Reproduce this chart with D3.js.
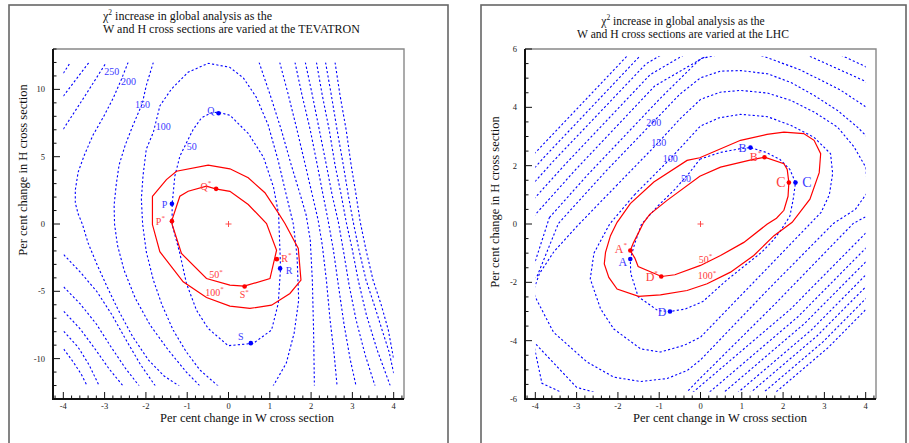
<!DOCTYPE html>
<html><head><meta charset="utf-8">
<script src="https://cdn.jsdelivr.net/npm/d3@7"></script>
<style>body{margin:0;background:#fff}svg{display:block}text{font-family:"Liberation Serif","Times New Roman",serif}</style>
</head><body><svg id="c" width="909" height="443"></svg>
<script>
// ---------------- DATA ----------------
const xTickVals = [-4,-3,-2,-1,0,1,2,3,4];
const yTickValsL = [-10,-5,0,5,10];
const yTickValsR = [-6,-4,-2,0,2,4,6];
const titleL = ["increase in global analysis as the","W and H cross sections are varied at the TEVATRON"];
const titleR = ["increase in global analysis as the","W and H cross sections are varied at the LHC"];
const xLabel = "Per cent change in W cross section";
const yLabel = "Per cent change in H cross section";

// TEVATRON blue chi2 contours (W%, H%)
const tevB50 = [[-1.365,-0.04],[-1.365,1.45],[-1.30,3.55],[-1.178,5.03],[-1.018,6.03],[-0.856,7.02],[-0.655,7.88],[-0.412,8.26],[-0.25,8.30],[0.034,8.08],[0.485,6.70],[0.848,4.96],[1.09,2.73],[1.212,0.76],[1.246,-1.95],[1.26,-3.30],[1.205,-5.90],[1.042,-7.88],[0.599,-8.87],[-0.007,-9.04],[-0.492,-7.76],[-0.776,-6.40],[-1.018,-4.42],[-1.178,-2.19],[-1.365,-0.04]];
const tevB100 = [[-0.25,-12.04],[-0.69,-10.85],[-1.02,-9.51],[-1.34,-7.88],[-1.61,-6.02],[-1.82,-4.16],[-1.99,-2.08],[-2.08,0],[-2.11,1.86],[-2.07,3.59],[-1.99,5.57],[-1.82,6.81],[-1.66,8.79],[-1.38,10.03],[-0.98,11.27],[-0.49,11.94],[0.03,11.64],[0.36,10.85],[0.67,9.44],[0.96,7.36],[1.20,4.75],[1.40,2.15],[1.57,0],[1.66,-2.38],[1.70,-5.65],[1.59,-8.10],[1.40,-10.33],[1.08,-12.04]];
const tevB150 = [[-1.82,12.01],[-1.99,10.30],[-2.09,8.92],[-2.31,7.36],[-2.50,5.87],[-2.65,4.38],[-2.72,2.90],[-2.77,1.41],[-2.76,0],[-2.69,-1.56],[-2.53,-3.42],[-2.26,-5.50],[-1.90,-7.50],[-1.46,-9.36],[-1.02,-11.0],[-0.69,-12.04]];
const tevB200 = [[-2.43,12.01],[-2.60,10.70],[-2.79,9.36],[-3.03,7.95],[-3.28,6.61],[-3.49,5.13],[-3.64,3.86],[-3.71,2.53],[-3.71,1.56],[-3.64,0.74],[-3.54,0],[-3.40,-1.41],[-3.20,-2.90],[-2.96,-4.53],[-2.67,-6.39],[-2.33,-8.32],[-1.94,-10.10],[-1.56,-11.29],[-1.19,-12.04]];
const tevB250 = [[-4.0,7.05],[-3.5,9.4],[-2.96,12.0]];
const tevB300 = [[-4.0,9.5],[-3.38,12.0]];
const tevB350 = [[-4.0,11.2],[-3.83,12.0]];
const tevBL1 = [[-3.99,-2.28],[-3.59,-3.57],[-3.18,-5.05],[-2.82,-6.76],[-2.48,-8.62],[-2.14,-10.40],[-1.77,-12.04]];
const tevBL2 = [[-3.99,-4.68],[-3.59,-5.94],[-3.20,-7.43],[-2.86,-9.06],[-2.50,-10.70],[-2.16,-12.04]];
const tevBL3 = [[-3.99,-6.49],[-3.59,-7.80],[-3.23,-9.29],[-2.89,-10.77],[-2.55,-12.04]];
const tevBL4 = [[-3.99,-7.97],[-3.64,-9.16],[-3.37,-10.50],[-3.13,-12.04]];
const tevBL5 = [[-3.99,-9.29],[-3.76,-10.25],[-3.57,-11.14],[-3.42,-12.04]];
const tevBR1 = [[0.74,12.01],[1.01,9.58],[1.28,6.98],[1.52,4.38],[1.74,2.15],[1.88,0.67],[1.98,-1.19],[2.03,-4.16],[2.06,-7.88],[2.08,-12.04]];
const tevBR2 = [[1.24,12.01],[1.45,9.58],[1.66,6.98],[1.86,4.38],[2.03,2.15],[2.17,0.30],[2.27,-1.56],[2.37,-4.16],[2.46,-7.13],[2.56,-9.73],[2.63,-12.04]];
const tevBR3 = [[1.61,12.01],[1.78,9.58],[1.98,6.98],[2.15,4.38],[2.29,2.15],[2.41,0.30],[2.54,-1.93],[2.66,-4.53],[2.80,-7.50],[2.95,-10.10],[3.09,-12.04]];
const tevBR4 = [[1.86,12.01],[2.03,9.58],[2.20,6.98],[2.37,4.38],[2.51,2.15],[2.66,0.15],[2.78,-1.93],[2.92,-4.53],[3.09,-7.13],[3.31,-9.73],[3.55,-12.04]];
const tevBR5 = [[2.13,12.01],[2.27,9.58],[2.44,6.98],[2.58,4.38],[2.73,2.15],[2.85,0.15],[3.00,-1.93],[3.14,-4.16],[3.34,-6.76],[3.60,-9.36],[3.92,-12.04]];
const tevBR6 = [[2.35,12.01],[2.49,9.58],[2.63,6.98],[2.78,4.38],[2.90,2.15],[3.02,0.15],[3.16,-1.93],[3.33,-4.16],[3.53,-6.02],[3.72,-7.88],[3.89,-9.51],[4.0,-11.07]];
const tevBR7 = [[2.58,12.01],[2.70,9.58],[2.85,6.98],[2.97,4.38],[3.09,2.15],[3.19,0.15],[3.33,-1.93],[3.50,-4.16],[3.70,-6.02],[3.87,-7.88],[4.0,-10.03]];
// TEVATRON red contours (fit with W,H constrained)
const tevR50 = [[-1.365,-0.04],[-1.139,-2.19],[-0.533,-4.05],[0.034,-4.54],[0.38,-4.62],[1.004,-4.05],[1.164,-1.95],[0.921,0.04],[0.478,1.45],[0.034,2.43],[-0.315,2.61],[-0.533,2.81],[-0.977,2.43],[-1.178,2.06],[-1.365,0.33],[-1.365,-0.04]];
const tevR100 = [[-1.842,2.06],[-1.842,-0.04],[-1.663,-2.06],[-1.098,-4.29],[-0.533,-5.46],[0.034,-6.10],[0.519,-6.27],[1.042,-6.03],[1.488,-5.16],[1.755,-4.17],[1.69,-1.82],[1.367,0.04],[1.205,0.83],[0.882,2.32],[0.478,3.43],[0.034,4.10],[-0.492,4.37],[-1.26,3.92],[-1.503,3.30],[-1.842,2.06]];
const tevPointsBlue = [["P",-1.37,1.50],["Q",-0.24,8.23],["R",1.25,-3.30],["S",0.54,-8.85]];
const tevPointsRed = [["P",-1.37,0.21],["Q",-0.30,2.61],["R",1.17,-2.61],["S",0.39,-4.64]];
const tevLetterBlue = [["P",-1.55,1.45],["Q",-0.43,8.45],["R",1.47,-3.47],["S",0.30,-8.32]];
const tevLetterRed = [["P",-1.65,0.2],["Q",-0.55,2.8],["R",1.40,-2.55],["S",0.38,-5.25]];
const tevLevelBlue = [["50",-0.89,5.74],["100",-1.58,7.22],["150",-2.08,8.9],["200",-2.42,10.56],["250",-2.83,11.3]];
const tevLevelRed = [["50",-0.30,-3.77],["100",-0.34,-5.06]];

// LHC blue chi2 contours
const lhcB50 = [[-0.017,2.22],[0.468,2.45],[0.953,2.58],[1.21,2.62],[1.60,2.45],[1.92,2.22],[2.165,1.87],[2.30,1.42],[2.245,0.85],[2.165,0.27],[1.96,-0.18],[1.76,-0.56],[1.48,-0.97],[1.115,-1.38],[0.63,-1.93],[0.056,-2.66],[-0.38,-2.92],[-0.744,-3.00],[-1.03,-2.97],[-1.51,-2.49],[-1.69,-1.69],[-1.70,-1.20],[-1.59,-0.66],[-1.43,-0.01],[-1.03,0.62],[-0.62,1.19],[-0.26,1.77],[-0.017,2.22]];
const lhcB100 = [[-1.6,1.0],[-0.73,2.24],[0,3.36],[0.45,3.64],[0.97,3.76],[1.62,3.68],[2.18,3.39],[2.75,2.97],[3.15,2.41],[3.2,1.73],[3.12,1.0],[2.92,0.4],[2.65,0],[1.47,-1.73],[0,-3.88],[-0.40,-4.16],[-0.97,-4.39],[-1.45,-4.28],[-2.10,-3.60],[-2.42,-2.91],[-2.67,-1.88],[-2.58,-1.0],[-2.2,0.0],[-1.6,1.0]];
const lhcB150 = [[-2.04,1.31],[-1.01,2.81],[-0.5,3.6],[0,4.27],[0.48,4.52],[0.97,4.58],[1.62,4.49],[2.18,4.24],[2.75,3.84],[3.32,3.32],[3.72,2.64],[4.0,1.95],[4.05,1.1],[3.75,0.5],[3.22,0.02],[1.6,-2.3],[0,-4.66],[-0.32,-5.02],[-0.81,-5.30],[-1.45,-5.40],[-2.10,-5.25],[-2.75,-4.73],[-3.56,-3.71],[-4.0,-2.51],[-4.05,-2.3],[-3.9,-1.7],[-3.55,-0.95],[-3.0,-0.09],[-2.04,1.31]];
const lhcB200 = [[-1.15,3.49],[-0.5,4.45],[0,5.01],[0.48,5.24],[0.97,5.26],[1.62,5.15],[2.18,4.86],[2.75,4.41],[3.32,3.89],[3.80,3.32],[4.1,2.9],[4.5,2.0],[4.5,1.0],[4.2,0.4],[3.70,0.02],[1.8,-2.75],[0,-5.28],[-0.4,-5.86],[-1.5,-6.2],[-3,-5.6],[-4.4,-3.5],[-4.2,-2.0],[-3.96,-1.8],[-3.44,0.02],[-2.3,1.8],[-1.15,3.49]];
const lhcB250 = [[-3.66,0.22],[-2.75,1.66],[-0.98,4.30],[0,5.67],[0.27,5.75],[0.9,5.95],[1.52,5.75],[2.41,5.29],[3.38,4.60],[3.98,4.04],[4.6,3.2],[4.8,1.5],[4.10,-0.17],[2.18,-2.92],[-0.25,-5.85],[-2.08,-6.62],[-3.84,-5.46],[-4.28,-2.50],[-3.66,0.22]];
const lhcB300 = [[-4.04,0.26],[-3.04,1.84],[-1.11,4.73],[0.71,6.23],[1.5,6.3],[2.65,5.75],[3.98,4.90],[4.8,4.0],[5.0,2.0],[4.47,-0.16],[2.36,-3.18],[-0.30,-6.39],[-2.31,-7.24],[-4.24,-5.96],[-4.72,-2.73],[-4.04,0.26]];
const lhcB350 = [[-4.39,0.30],[-3.30,2.01],[-1.22,5.12],[0.75,6.75],[2.5,6.4],[3.46,5.75],[3.98,5.41],[4.8,4.6],[5.3,2.0],[4.80,-0.16],[2.52,-3.41],[-0.35,-6.88]];
const lhcB400a = [[-4.72,0.33],[-3.56,2.16],[-1.32,5.49],[0.78,7.23]];
const lhcB400b = [[5.11,-0.16],[2.68,-3.64],[-0.40,-7.35]];
const lhcB450a = [[-5.01,0.36],[-3.78,2.30],[-1.42,5.83]];
const lhcB450b = [[5.40,-0.16],[2.82,-3.84],[-0.44,-7.77]];
const lhcB500a = [[-5.31,0.39],[-4.01,2.43],[-1.51,6.16]];
const lhcB500b = [[5.68,-0.16],[2.96,-4.05],[-0.48,-8.19]];
const lhcB550b = [[5.94,-0.16],[3.09,-4.24],[-0.52,-8.59]];
// LHC red contours
const lhcR50 = [[-1.39,0.02],[-1.47,-0.21],[-1.63,-0.66],[-1.70,-0.91],[-1.59,-1.17],[-1.51,-1.46],[-0.945,-1.80],[-0.62,-1.74],[0,-1.42],[0.485,-1.08],[1.05,-0.63],[1.61,-0.01],[1.84,0.20],[2.02,0.47],[2.12,0.95],[2.14,1.42],[2.10,1.87],[2.02,2.07],[1.55,2.29],[1.25,2.21],[0.485,1.95],[-0.017,1.64],[-0.81,0.81],[-1.23,0.33],[-1.39,0.02]];
const lhcR100 = [[-2.02,0.06],[-2.18,-0.40],[-2.30,-0.97],[-2.33,-1.37],[-2.22,-1.83],[-2.02,-2.23],[-1.50,-2.48],[-0.97,-2.43],[-0.325,-2.28],[0.16,-2.05],[0.727,-1.65],[1.29,-1.08],[1.78,-0.40],[2.22,0.06],[2.65,0.85],[2.875,1.76],[2.91,2.41],[2.75,2.87],[2.50,3.10],[2.02,3.15],[1.61,3.07],[0.97,2.87],[-0.017,2.27],[-0.325,2.18],[-1.13,1.44],[-1.70,0.70],[-1.98,0.13],[-2.02,0.06]];
const lhcPointsBlue = [["A",-1.70,-1.20],["B",1.21,2.62],["C",2.30,1.42],["D",-0.74,-3.00]];
const lhcPointsRed = [["A",-1.70,-0.91],["B",1.55,2.29],["C",2.14,1.42],["D",-0.95,-1.80]];
const lhcLetterBlue = [["A",-1.88,-1.29],["B",1.02,2.62],["C",2.58,1.42],["D",-0.93,-3.0]];
const lhcLetterRed = [["A",-1.93,-0.84],["B",1.33,2.31],["C",1.95,1.42],["D",-1.18,-1.8]];
const lhcLevelBlue = [["50",-0.35,1.55],["100",-0.73,2.24],["150",-1.01,2.81],["200",-1.13,3.47]];
const lhcLevelRed = [["50",0.12,-1.20],["100",0.16,-1.77]];

// ---------------- DRAW ----------------
const svg = d3.select("#c");
const BLUE = "#0000ff", RED = "#ff0000", LBLUE = "#3a3aff", LRED = "#ff3c3c";

function panel(o){
  const g = svg.append("g");
  g.append("rect").attr("x",o.frame[0]).attr("y",o.frame[1]).attr("width",o.frame[2]).attr("height",o.frame[3])
    .attr("fill","none").attr("stroke","#666").attr("stroke-width",1.6);
  const xs = d3.scaleLinear().domain([-4.25,4.25]).range([o.box[0],o.box[2]]);
  const ys = d3.scaleLinear().domain(o.ydom).range([o.box[3],o.box[1]]);
  const cid = "clip"+o.id;
  svg.append("clipPath").attr("id",cid).append("rect")
    .attr("x",xs(-4)).attr("y",ys(o.grid[1])).attr("width",xs(4)-xs(-4)).attr("height",ys(o.grid[0])-ys(o.grid[1]));
  const line = d3.line().x(d=>xs(d[0])).y(d=>ys(d[1]));
  const cg = g.append("g").attr("clip-path","url(#"+cid+")");
  o.blue.forEach(a=>cg.append("path").attr("d",line(a)).attr("fill","none").attr("stroke",BLUE)
      .attr("stroke-width",1.1).attr("stroke-dasharray","2.2,2.2"));
  o.red.forEach(a=>cg.append("path").attr("d",line(a)).attr("fill","none").attr("stroke",RED).attr("stroke-width",1.2));
  const cx=xs(0), cy=ys(0);
  g.append("path").attr("d",`M${cx-3},${cy}H${cx+3}M${cx},${cy-3}V${cy+3}`).attr("stroke",LRED).attr("stroke-width",0.9);
  o.ptsB.forEach(p=>g.append("circle").attr("cx",xs(p[1])).attr("cy",ys(p[2])).attr("r",2.3).attr("fill",BLUE));
  o.ptsR.forEach(p=>g.append("circle").attr("cx",xs(p[1])).attr("cy",ys(p[2])).attr("r",2.3).attr("fill",RED));
  const lab=(arr,col,star,fs,big)=>arr.forEach(p=>{
    const f = (big && p[0]==="C") ? fs+2 : fs;
    const t=g.append("text").attr("x",xs(p[1])).attr("y",ys(p[2])+f*0.35).attr("text-anchor","middle")
      .attr("font-size",f).attr("fill",col).text(p[0]);
    if(star && p[0]!=="C") t.append("tspan").attr("font-size",7).attr("dy",-f*0.45).text("*");
  });
  lab(o.letB,LBLUE,false,o.letFs,o.bigC);
  lab(o.letR,LRED,true,o.letFs,o.bigC);
  lab(o.lvlB,LBLUE,false,10,false);
  lab(o.lvlR,LRED,true,10,false);
  g.append("path").attr("d",`M${o.box[0]},${o.box[1]}H${o.box[2]}V${o.box[3]}`).attr("fill","none").attr("stroke","#888").attr("stroke-width",1.4);
  g.append("path").attr("d",`M${o.box[0]},${o.box[1]}V${o.box[3]}H${o.box[2]}`).attr("fill","none").attr("stroke","#111").attr("stroke-width",2);
  const xMinor = d3.range(-42,43,2).map(v=>v/10);
  xMinor.forEach(v=>{const X=xs(v), major=Math.abs(v-Math.round(v))<1e-6;
    g.append("line").attr("x1",X).attr("x2",X).attr("y1",o.box[3]).attr("y2",o.box[3]-(major?7:3.5)).attr("stroke","#111").attr("stroke-width",1);});
  xTickVals.forEach(v=>g.append("text").attr("x",xs(v)).attr("y",o.box[3]+10).attr("text-anchor","middle").attr("font-size",8.5).attr("fill","#222").text(v));
  o.yMinor.forEach(v=>{const Y=ys(v), major=o.yMajor.includes(v);
    g.append("line").attr("x1",o.box[0]).attr("x2",o.box[0]+(major?7:3.5)).attr("y1",Y).attr("y2",Y).attr("stroke","#111").attr("stroke-width",1);});
  o.yLab.forEach(v=>g.append("text").attr("x",o.box[0]-8).attr("y",ys(v)+3).attr("text-anchor","end").attr("font-size",8.5).attr("fill","#222").text(v));
  o.title.forEach((s,i)=>{
    const t=g.append("text").attr("x",o.tx).attr("y",o.ty[i]).attr("text-anchor",o.tanchor).attr("font-size",o.tfs).attr("fill","#111");
    if(i===0){t.append("tspan").text("\u03c7");t.append("tspan").attr("font-size",7.5).attr("dy",-5).text("2");t.append("tspan").attr("dy",5).text(" "+s);}
    else t.text(s);
  });
  g.append("text").attr("x",o.xlab[0]).attr("y",o.xlab[1]).attr("text-anchor","middle").attr("font-size",12.5).attr("fill","#111").text(xLabel);
  g.append("text").attr("transform",`translate(${o.ylab[0]},${o.ylab[1]}) rotate(-90)`).attr("text-anchor","middle").attr("font-size",12.5).attr("fill","#111").text(yLabel);
}

panel({id:"L",frame:[9,5,439,445],box:[53,49,404,399],ydom:[-13,13],grid:[-12,12],
  blue:[tevB50,tevB100,tevB150,tevB200,tevB250,tevB300,tevB350,tevBL1,tevBL2,tevBL3,tevBL4,tevBL5,tevBR1,tevBR2,tevBR3,tevBR4,tevBR5,tevBR6,tevBR7],
  red:[tevR50,tevR100],ptsB:tevPointsBlue,ptsR:tevPointsRed,letB:tevLetterBlue,letR:tevLetterRed,letFs:10,bigC:false,
  lvlB:tevLevelBlue,lvlR:tevLevelRed,
  yMinor:d3.range(-13,14),yMajor:[-10,-5,0,5,10],yLab:yTickValsL,
  title:titleL,tx:103,ty:[20,33],tanchor:"start",tfs:12,xlab:[247,422],ylab:[27,170]});

panel({id:"R",frame:[481,5,425,445],box:[525,49,876,399],ydom:[-6,6],grid:[-5.75,5.75],
  blue:[lhcB50,lhcB100,lhcB150,lhcB200,lhcB250,lhcB300,lhcB350,lhcB400a,lhcB400b,lhcB450a,lhcB450b,lhcB500a,lhcB500b,lhcB550b],
  red:[lhcR50,lhcR100],ptsB:lhcPointsBlue,ptsR:lhcPointsRed,letB:lhcLetterBlue,letR:lhcLetterRed,letFs:12,bigC:true,
  lvlB:lhcLevelBlue,lvlR:lhcLevelRed,
  yMinor:d3.range(-12,13).map(v=>v/2),yMajor:[-6,-4,-2,0,2,4,6],yLab:yTickValsR,
  title:titleR,tx:683,ty:[24.5,38],tanchor:"middle",tfs:11.6,xlab:[720,422],ylab:[499,202]});
</script></body></html>
